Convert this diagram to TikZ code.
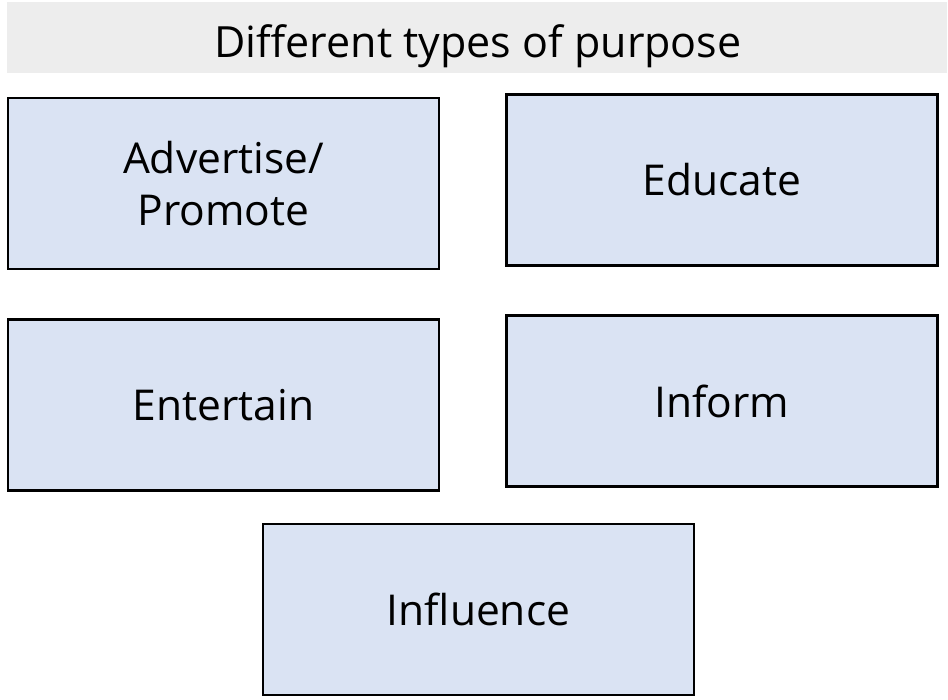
\documentclass[tikz,border=0pt]{standalone}
\usepackage{fontspec}
\setmainfont{Open Sans}
\definecolor{boxfill}{HTML}{DAE3F3}
\definecolor{titlefill}{HTML}{EDEDED}
\begin{document}
\begin{tikzpicture}[x=1pt,y=-1pt,
  purpose/.style={draw=black,line width=2.4pt,fill=boxfill,minimum width=431pt,minimum height=171pt,inner sep=0pt,align=center,font=\fontsize{42.5}{52}\selectfont},
  titlebar/.style={fill=titlefill,minimum width=940pt,minimum height=71pt,inner sep=0pt},
  titletext/.style={inner sep=0pt,anchor=base,font=\fontsize{43}{50}\selectfont}]
\useasboundingbox (0,0) rectangle (948,700);
\node[titlebar] (title) at (477,37.5) {};
\node[titletext] (titlet) at (478,57.5) {Different types of purpose};
\node[purpose] (adv) at (223.5,183.5) {Advertise/\\Promote};
\node[purpose] (edu) at (722,180) {Educate};
\node[purpose] (ent) at (223.5,405) {Entertain};
\node[purpose] (inf) at (722,401) {Inform};
\node[purpose] (infl) at (478.5,609.5) {Influence};
\end{tikzpicture}
\end{document}
